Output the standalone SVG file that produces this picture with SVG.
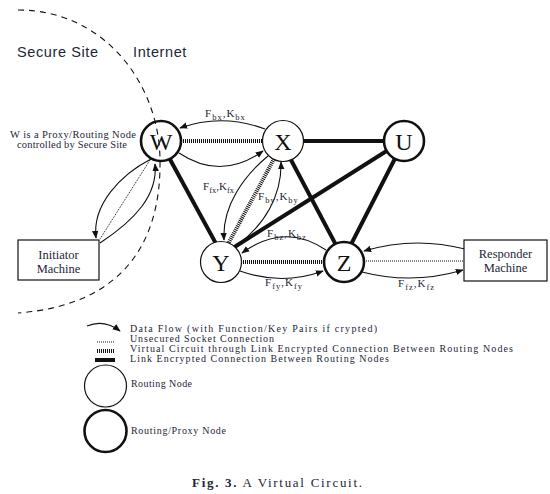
<svg xmlns="http://www.w3.org/2000/svg" width="550" height="494" viewBox="0 0 550 494">
<style>
text{font-family:"Liberation Serif","Times New Roman",serif;fill:#1e2638}
.node{fill:#fff;stroke:#111}
.thin{stroke-width:1.2}
.thick{stroke-width:2.6}
.nl{font-size:24px;fill:#111;text-anchor:middle}
.box{fill:#fff;stroke:#111;stroke-width:1.2}
.bt{font-size:12.5px;text-anchor:middle}
.link{stroke:#111;stroke-width:4;fill:none}
.vc{stroke:#111;stroke-width:4;stroke-dasharray:1,1;fill:none}
.us{stroke:#111;stroke-width:1;stroke-dasharray:1,1;fill:none}
.flow{stroke:#111;stroke-width:1.1;fill:none;marker-end:url(#ah)}
.lbl{font-size:11px}
.sub{font-size:8.5px}
.sp{letter-spacing:1px}
.lg{font-size:10px}
.hd{font-family:"Liberation Sans",Arial,sans-serif;font-size:14.5px;letter-spacing:0.6px}
</style>
<defs>
<marker id="ah" viewBox="0 0 10 10" refX="9" refY="5" markerWidth="8" markerHeight="8" markerUnits="userSpaceOnUse" orient="auto">
<path d="M0,1 L10,5 L0,9 z" fill="#111"/>
</marker>
</defs>
<rect width="550" height="494" fill="#fff"/>

<text class="hd" x="17" y="57">Secure Site</text>
<text class="hd" x="133" y="57">Internet</text>
<text x="10" y="138" font-size="10.5" textLength="126">W is a Proxy/Routing Node</text>
<text x="17" y="148" font-size="10.5" textLength="110">controlled by Secure Site</text>

<g id="connectors">
<line class="link" x1="160" y1="141" x2="226" y2="262"/>
<line class="link" x1="283" y1="141" x2="404" y2="141"/>
<line class="link" x1="281" y1="141" x2="345" y2="262"/>
<line class="link" x1="404" y1="140" x2="225" y2="253"/>
<line class="link" x1="404" y1="141" x2="342" y2="262"/>
<line class="vc" x1="181" y1="141" x2="263" y2="141"/>
<line class="vc" x1="274" y1="159" x2="228" y2="244"/>
<line class="vc" x1="241" y1="262" x2="324" y2="262"/>
<line class="us" x1="150" y1="160" x2="100" y2="239"/>
<line class="us" x1="364" y1="261" x2="464" y2="261"/>
<path class="flow" d="M265,129 Q222,113 180,128"/>
<path class="flow" d="M179,153 Q221,181 263,151"/>
<path class="flow" d="M268,156 C245,175 222,205 224,240"/>
<path class="flow" d="M236,246 C265,225 282,195 281,162"/>
<path class="flow" d="M326,250 Q284,222 242,253"/>
<path class="flow" d="M240,271 Q282,286 323,271"/>
<path class="flow" d="M465,249 Q414,236 364,251"/>
<path class="flow" d="M362,272 Q412,285 463,270"/>
<path class="flow" d="M151,159 C120,175 92,205 96,238"/>
<path class="flow" d="M100,243 C135,220 158,195 155,164"/>
</g>

<g id="labels">
<text class="lbl sp" x="205" y="117">F<tspan class="sub" dy="3">bx</tspan><tspan dy="-3">,K</tspan><tspan class="sub" dy="3">bx</tspan></text>
<text class="lbl" x="203" y="190">F<tspan class="sub" dy="3">fx</tspan><tspan dy="-3">,K</tspan><tspan class="sub" dy="3">fx</tspan></text>
<text class="lbl sp" x="258" y="200">F<tspan class="sub" dy="3">by</tspan><tspan dy="-3">,K</tspan><tspan class="sub" dy="3">by</tspan></text>
<text class="lbl sp" x="267" y="237">F<tspan class="sub" dy="3">bz</tspan><tspan dy="-3">,K</tspan><tspan class="sub" dy="3">bz</tspan></text>
<text class="lbl sp" x="265" y="286">F<tspan class="sub" dy="3">fy</tspan><tspan dy="-3">,K</tspan><tspan class="sub" dy="3">fy</tspan></text>
<text class="lbl sp" x="398" y="287">F<tspan class="sub" dy="3">fz</tspan><tspan dy="-3">,K</tspan><tspan class="sub" dy="3">fz</tspan></text>
</g>

<g id="node-W"><circle class="node thick" cx="161" cy="141" r="20"/><text class="nl" x="161" y="149.5">W</text></g>
<g id="node-X"><circle class="node thin" cx="283" cy="141" r="20.5"/><text class="nl" x="283" y="149.5">X</text></g>
<g id="node-U"><circle class="node thick" cx="404" cy="141" r="20"/><text class="nl" x="404" y="149.5">U</text></g>
<g id="node-Y"><circle class="node thin" cx="221" cy="262" r="20.5"/><text class="nl" x="221" y="270.5">Y</text></g>
<g id="node-Z"><circle class="node thick" cx="344" cy="262" r="20"/><text class="nl" x="344" y="270.5">Z</text></g>
<g id="node-initiator"><rect class="box" x="18" y="240" width="81" height="40"/><text class="bt" x="58.5" y="259">Initiator</text><text class="bt" x="58.5" y="273">Machine</text></g>
<g id="node-responder"><rect class="box" x="464" y="240" width="83" height="41"/><text class="bt" x="505.5" y="258">Responder</text><text class="bt" x="505.5" y="272">Machine</text></g>

<path id="boundary" d="M18,10 C105,10 160,85 160,161 C161,240 125,305 18,313" fill="none" stroke="#111" stroke-width="1.1" stroke-dasharray="6,5"/>

<g id="legend">
<path class="flow" d="M87,326 Q104,319 120,331"/>
<line class="us" x1="97" y1="342" x2="115" y2="342"/>
<line class="vc" x1="97" y1="351" x2="115" y2="351"/>
<line class="link" x1="95" y1="360" x2="115" y2="360"/>
<text class="lg" x="130" y="332" textLength="247">Data Flow (with Function/Key Pairs if crypted)</text>
<text class="lg" x="130" y="342" textLength="144">Unsecured Socket Connection</text>
<text class="lg" x="130" y="352" textLength="383">Virtual Circuit through Link Encrypted Connection Between Routing Nodes</text>
<text class="lg" x="130" y="362" textLength="259">Link Encrypted Connection Between Routing Nodes</text>
<circle class="node thin" cx="105.5" cy="386" r="21"/>
<text font-size="10" x="131" y="387" textLength="61">Routing Node</text>
<circle class="node thick" cx="105.5" cy="431" r="21"/>
<text font-size="10" x="131" y="434" textLength="95">Routing/Proxy Node</text>
</g>

<text x="192" y="487" font-size="13" textLength="170"><tspan font-weight="bold">Fig. 3.</tspan> A Virtual Circuit.</text>
</svg>
